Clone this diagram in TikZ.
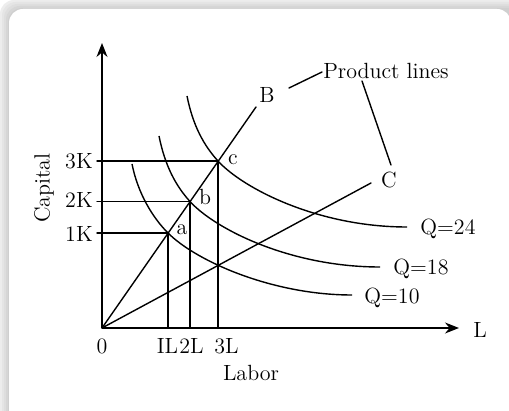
\documentclass[tikz,border=0pt]{standalone}
\usetikzlibrary{arrows.meta}
\begin{document}
\begin{tikzpicture}[x=0.5pt,y=-0.5pt,
  ln/.style={line width=0.7pt, line cap=round},
  lbl/.style={font=\fontsize{11}{13}\selectfont, inner sep=0pt},
  axis/.style={line width=0.7pt,-{Stealth[length=7pt,width=5.5pt]}},
  curve/.style={line width=0.7pt}]
\useasboundingbox (0,0) rectangle (509,411);
\clip (0,0) rectangle (509,411);
% background shadow and card
\foreach \i/\c in {0/7,2/10,4/13,6/16,8/19}{
  \fill[black!\c, rounded corners=7pt] (\i,\i) rectangle (540,440);
}
\fill[white, rounded corners=7pt] (9,9) rectangle (511,440);
% key points
\coordinate (O) at (102,328);
\coordinate (Ytip) at (102,43);
\coordinate (Xtip) at (459,328);
\coordinate (Bend) at (256,107);
\coordinate (Cend) at (371,183);
\coordinate (a) at (168,233);
\coordinate (b) at (190,201.5);
\coordinate (c) at (218,161);
\coordinate (t1) at (97,233);
\coordinate (t2) at (97,201.5);
\coordinate (t3) at (97,161);
% axes
\draw[axis] (O) -- (Ytip);
\draw[axis] (O) -- (Xtip);
% product lines
\draw[ln] (O) -- (Bend);
\draw[ln] (O) -- (Cend);
% guide lines
\draw[ln] (t1) -- (a) -- (a |- O);
\draw[ln] (t2) -- (b) -- (b |- O);
\draw[ln] (t3) -- (c) -- (c |- O);
% isoquants
\coordinate (q24s) at (187,96);
\coordinate (q24e) at (407,227);
\coordinate (q18s) at (159,136);
\coordinate (q18e) at (380,267);
\coordinate (q10s) at (132,164);
\coordinate (q10e) at (352,295);
\draw[curve] (q24s) .. controls (193,126) and (204,145.6) .. (c)
  .. controls (243,188.5) and (318,227) .. (q24e);
\draw[curve] (q18s) .. controls (165,166) and (176,186.1) .. (b)
  .. controls (215,229) and (290,267) .. (q18e);
\draw[curve] (q10s) .. controls (138,194) and (153,218) .. (a)
  .. controls (196,261) and (272,295) .. (q10e);
% leaders
\coordinate (l1s) at (289,88);
\coordinate (l1e) at (322,72);
\coordinate (l2s) at (362,81);
\coordinate (l2e) at (391,165);
\draw[ln] (l1s) -- (l1e);
\draw[ln] (l2s) -- (l2e);
% labels
\node[lbl] (nB) at (267,95) {B};
\node[lbl] (nC) at (389,180) {C};
\node[lbl] (nPL) at (386,71) {Product lines};
\node[lbl] (nQ24) at (448,229) {Q=24};
\node[lbl] (nQ18) at (421,269) {Q=18};
\node[lbl] (nQ10) at (392,298) {Q=10};
\node[lbl] (nL) at (480,330) {L};
\node[lbl] (n0) at (102,346) {0};
\node[lbl] (nIL) at (167.5,346) {IL};
\node[lbl] (n2L) at (191.5,346) {2L};
\node[lbl] (n3L) at (226.5,346) {3L};
\node[lbl] (nLabor) at (251,373) {Labor};
\node[lbl, rotate=90] (nCap) at (44,188) {Capital};
\node[lbl] (n3K) at (79,161) {3K};
\node[lbl] (n2K) at (79,200) {2K};
\node[lbl] (n1K) at (79,234) {1K};
\node[lbl] (na) at (182,230) {a};
\node[lbl] (nb) at (205,197) {b};
\node[lbl] (nc) at (233,160) {c};
\end{tikzpicture}
\end{document}
